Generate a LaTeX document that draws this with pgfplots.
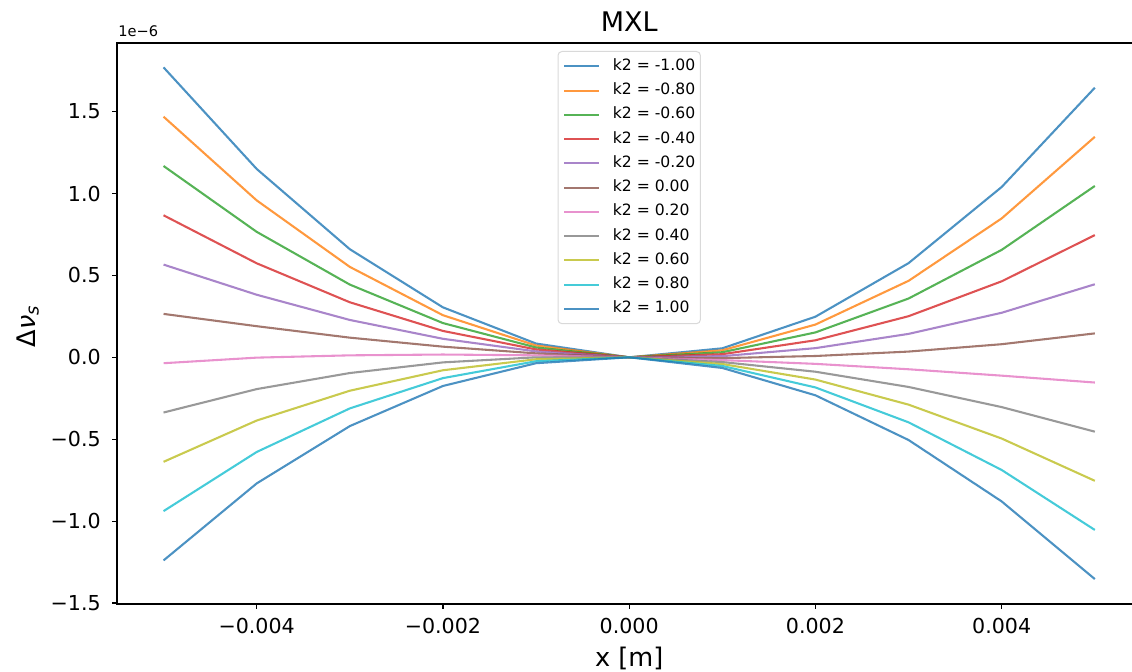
\documentclass[border=0pt]{standalone}
\usepackage{fontspec}
\setmainfont{DejaVu Sans}
\usepackage{pgfplots}
\usepackage{pgfplotstable}
\pgfplotsset{compat=1.18}
\definecolor{c0}{HTML}{1F77B4}
\definecolor{c1}{HTML}{FF7F0E}
\definecolor{c2}{HTML}{2CA02C}
\definecolor{c3}{HTML}{D62728}
\definecolor{c4}{HTML}{9467BD}
\definecolor{c5}{HTML}{8C564B}
\definecolor{c6}{HTML}{E377C2}
\definecolor{c7}{HTML}{7F7F7F}
\definecolor{c8}{HTML}{BCBD22}
\definecolor{c9}{HTML}{17BECF}
\pgfplotstableread{
x       m100   m080   m060   m040   m020   z000   p020   p040   p060   p080   p100
-0.005  1.770  1.469  1.168  0.867  0.566  0.265 -0.036 -0.337 -0.638 -0.939 -1.240
-0.004  1.150  0.958  0.766  0.574  0.382  0.190 -0.002 -0.194 -0.386 -0.578 -0.770
-0.003  0.660  0.552  0.444  0.336  0.228  0.120  0.012 -0.096 -0.204 -0.312 -0.420
-0.002  0.305  0.257  0.209  0.161  0.113  0.065  0.017 -0.031 -0.079 -0.127 -0.175
-0.001  0.084  0.072  0.060  0.048  0.036  0.024  0.012  0.000 -0.012 -0.024 -0.036
 0.000  0.000  0.000  0.000  0.000  0.000  0.000  0.000  0.000  0.000  0.000  0.000
 0.001  0.055  0.043  0.031  0.019  0.007 -0.005 -0.017 -0.029 -0.041 -0.053 -0.065
 0.002  0.248  0.200  0.152  0.104  0.056  0.008 -0.040 -0.088 -0.136 -0.184 -0.232
 0.003  0.575  0.467  0.359  0.251  0.143  0.035 -0.073 -0.181 -0.289 -0.397 -0.505
 0.004  1.040  0.848  0.656  0.464  0.272  0.080 -0.112 -0.304 -0.496 -0.688 -0.880
 0.005  1.646  1.346  1.046  0.746  0.446  0.146 -0.154 -0.454 -0.754 -1.054 -1.354
}\data
\begin{document}
\begin{tikzpicture}
\useasboundingbox (0,0) rectangle (566pt,336pt);
\begin{axis}[
  at={(58.5pt,34pt)}, anchor=south west,
  scale only axis, width=512.2pt, height=280.5pt,
  xmin=-0.0055, xmax=0.0055, ymin=-1.506, ymax=1.919,
  xtick={-0.004,-0.002,0,0.002,0.004},
  xticklabels={−0.004,−0.002,0.000,0.002,0.004},
  ytick={-1.5,-1,-0.5,0,0.5,1,1.5},
  yticklabels={−1.5,−1.0,−0.5,0.0,0.5,1.0,1.5},
  scaled x ticks=false, scaled y ticks=false,
  tick pos=left,
  tick align=outside, major tick length=2.43pt,
  tick style={line width=0.6pt, black},
  axis line style={line width=0.6pt, black},
  ticklabel style={font=\fontsize{10.3}{12}\selectfont},
  xticklabel style={anchor=north, inner sep=0pt, yshift=-4.72pt},
  yticklabel style={anchor=east, inner sep=0pt, xshift=-5.5pt},
  title={MXL},
  title style={at={(axis description cs:0.5,1)}, anchor=base, yshift=-0.35pt, inner sep=0pt, font=\fontsize{13.5}{15}\selectfont},
  xlabel={x [m]},
  xlabel style={at={(axis description cs:0.5,0)}, anchor=base, yshift=-31.5pt, inner sep=0pt, font=\fontsize{12.8}{15}\selectfont},
  ylabel={Δ\textit{ν}\textsubscript{\textit{s}}},
  ylabel style={at={(axis description cs:-0.08,0.4955)}, anchor=base, inner sep=0pt, font=\fontsize{12.8}{15}\selectfont},
  clip=false,
  every axis plot/.append style={line width=1.04pt, draw opacity=0.8},
  legend cell align=left,
  legend image code/.code={\draw[#1] (0pt,0pt) -- (17.5pt,0pt);},
  legend style={at={(axis description cs:0.5,1)}, anchor=north, yshift=-4pt,
    draw=black!15, line width=0.5pt, rounded corners=2pt, fill=white,
    font=\fontsize{7.8}{9}\selectfont,
    inner xsep=2.6pt, inner ysep=3.9pt, row sep=5.13pt, column sep=6.3pt,
    nodes={inner sep=0pt, text height=5.5pt, text depth=1.5pt}},
]
\addplot[c0] table[x=x,y=m100] {\data}; \addlegendentry{k2 = -1.00}
\addplot[c1] table[x=x,y=m080] {\data}; \addlegendentry{k2 = -0.80}
\addplot[c2] table[x=x,y=m060] {\data}; \addlegendentry{k2 = -0.60}
\addplot[c3] table[x=x,y=m040] {\data}; \addlegendentry{k2 = -0.40}
\addplot[c4] table[x=x,y=m020] {\data}; \addlegendentry{k2 = -0.20}
\addplot[c5] table[x=x,y=z000] {\data}; \addlegendentry{k2 = 0.00}
\addplot[c6] table[x=x,y=p020] {\data}; \addlegendentry{k2 = 0.20}
\addplot[c7] table[x=x,y=p040] {\data}; \addlegendentry{k2 = 0.40}
\addplot[c8] table[x=x,y=p060] {\data}; \addlegendentry{k2 = 0.60}
\addplot[c9] table[x=x,y=p080] {\data}; \addlegendentry{k2 = 0.80}
\addplot[c0] table[x=x,y=p100] {\data}; \addlegendentry{k2 = 1.00}
\node[anchor=base west, inner sep=0pt, font=\fontsize{7.3}{8}\selectfont, yshift=3pt, xshift=0.5pt] at (rel axis cs:0,1) {1e−6};
\end{axis}
\end{tikzpicture}
\end{document}
